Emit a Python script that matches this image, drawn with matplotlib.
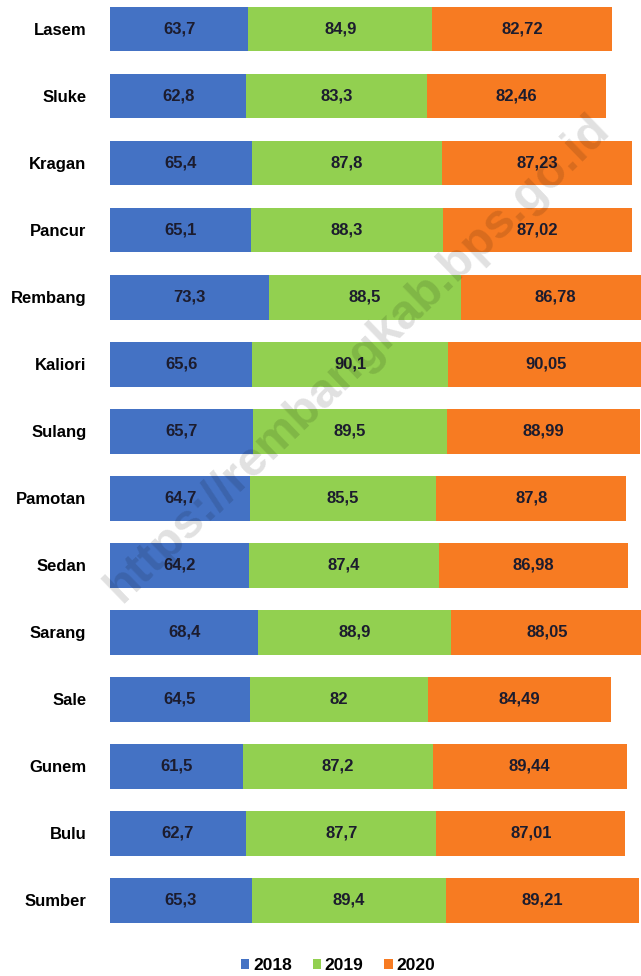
import numpy as np
import matplotlib.pyplot as plt

plt.rcParams['font.family'] = ['Liberation Sans', 'DejaVu Sans']

kecamatan = ["Lasem", "Sluke", "Kragan", "Pancur", "Rembang", "Kaliori", "Sulang",
             "Pamotan", "Sedan", "Sarang", "Sale", "Gunem", "Bulu", "Sumber"]
v2018 = [63.7, 62.8, 65.4, 65.1, 73.3, 65.6, 65.7, 64.7, 64.2, 68.4, 64.5, 61.5, 62.7, 65.3]
v2019 = [84.9, 83.3, 87.8, 88.3, 88.5, 90.1, 89.5, 85.5, 87.4, 88.9, 82, 87.2, 87.7, 89.4]
v2020 = [82.72, 82.46, 87.23, 87.02, 86.78, 90.05, 88.99, 87.8, 86.98, 88.05, 84.49, 89.44, 87.01, 89.21]
tahun = ["2018", "2019", "2020"]
warna = ["#4472C4", "#92D050", "#F77B22"]

W, H = 641, 976
fig = plt.figure(figsize=(W / 100, H / 100), dpi=100)
ax = fig.add_axes([110 / W, 41 / H, 1 - 110 / W, 1 - 41 / H])

y = np.arange(len(kecamatan))
left = np.zeros(len(kecamatan))
for vals, lab, c in zip([v2018, v2019, v2020], tahun, warna):
    vals = np.array(vals)
    bars = ax.barh(y, vals, left=left, height=0.67, color=c, label=lab)
    for b, v in zip(bars, vals):
        txt = ("%g" % v).replace(".", ",")
        ax.text(b.get_x() + b.get_width() / 2, b.get_y() + b.get_height() / 2, txt,
                ha="center", va="center", fontsize=12, fontweight="bold", color="#1c1c2e")
    left += vals

ax.set_xlim(0, 244.7)
ax.set_ylim(13.52, -0.433)
ax.set_yticks(y)
ax.set_yticklabels(kecamatan, fontsize=12, fontweight="bold")
ax.tick_params(axis="y", length=0, pad=17)
ax.set_xticks([])
for s in ax.spines.values():
    s.set_visible(False)

fig.legend(loc="center", bbox_to_anchor=(338 / W, 1 - 966 / H), ncol=3, frameon=False,
           prop={"weight": "bold", "size": 12.5}, handlelength=0.5, handleheight=0.5,
           handletextpad=0.2, columnspacing=1.2)

# watermark
fig.text(358 / W, 1 - 358 / H, "https://rembangkab.bps.go.id", rotation=44,
         ha="center", va="center", fontsize=35, fontweight="bold", color="black",
         alpha=0.12)

fig.savefig("out.png", dpi=100)
